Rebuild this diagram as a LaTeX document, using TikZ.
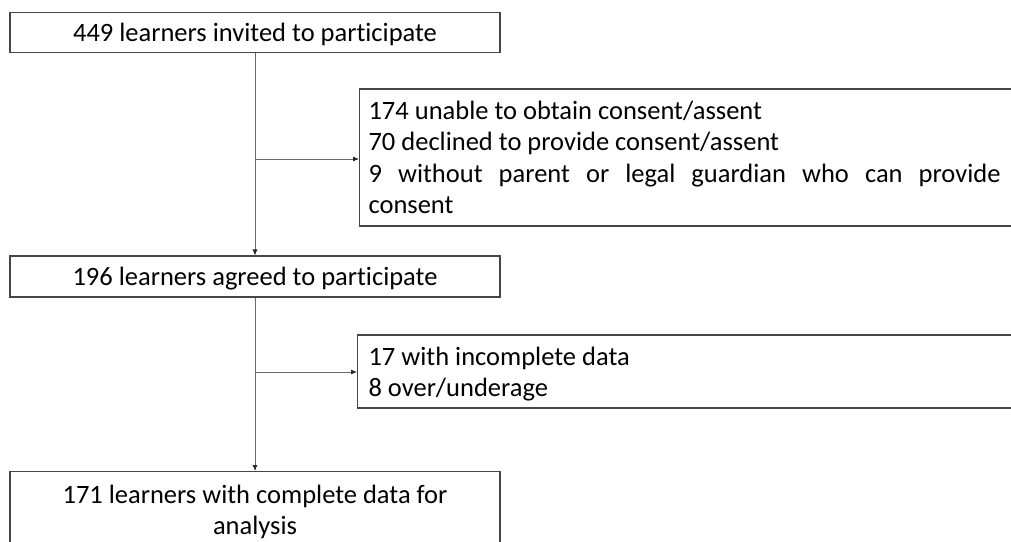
\documentclass[tikz,border=0pt]{standalone}
\usepackage{fontspec}
\setmainfont{Carlito}[Ligatures=NoCommon]
\usetikzlibrary{arrows.meta}
\definecolor{boxgray}{RGB}{70,70,70}
\definecolor{conngray}{RGB}{105,105,105}
\newcommand{\natsp}{\spaceskip=0pt\xspaceskip=0pt\relax}
\newcommand{\txtline}[1]{\mbox{\natsp #1}}
\begin{document}
\begin{tikzpicture}[x=1pt,y=-1pt,
  box/.style={draw=boxgray, line width=1.1pt, inner sep=0pt, text=black,
    font=\fontsize{26.5}{31.5}\selectfont},
  onebox/.style={box, minimum width=490pt, text height=19pt, text depth=2pt},
  arr/.style={draw=conngray, line width=0.8pt, -{Latex[length=6pt,width=5pt,color=black!85]}}]
\useasboundingbox (0,0) rectangle (1011,541);
\clip (0,0) rectangle (1011,541);
\fill[white] (0,0) rectangle (1011,541);
\node[onebox, minimum height=40.5pt] (invited) at (255,32.5)
  {\txtline{449 learners invited to participate}};
\node[box, anchor=west, minimum height=137pt, text width=640pt, align=left, inner xsep=9pt]
  (excl1) at (359,157.5)
  {\txtline{174 unable to obtain consent/assent}\\
   \txtline{70 declined to provide consent/assent}\\
   \makebox[632pt][s]{\natsp 9 without parent or legal guardian who can provide}\\
   \txtline{consent}};
\node[onebox, minimum height=41pt] (agreed) at (255,276.5)
  {\txtline{196 learners agreed to participate}};
\node[box, anchor=west, minimum height=73pt, text width=650pt, align=left, inner xsep=11pt]
  (excl2) at (357,371.5)
  {\rule{0pt}{24pt}\txtline{17 with incomplete data}\\\txtline{8 over/underage}};
\node[box, anchor=north, minimum width=490pt, minimum height=74.5pt, text width=470pt, align=center]
  (final) at (255,471)
  {\rule{0pt}{24.5pt}\txtline{171 learners with complete data for}\\\txtline{analysis}};
\coordinate (j1) at (255,159);
\coordinate (j2) at (255,372);
\draw[arr] (invited.south) -- (agreed.north);
\draw[arr] (j1) -- (j1 -| excl1.west);
\draw[arr] (agreed.south) -- (final.north);
\draw[arr] (j2) -- (j2 -| excl2.west);
\end{tikzpicture}
\end{document}
